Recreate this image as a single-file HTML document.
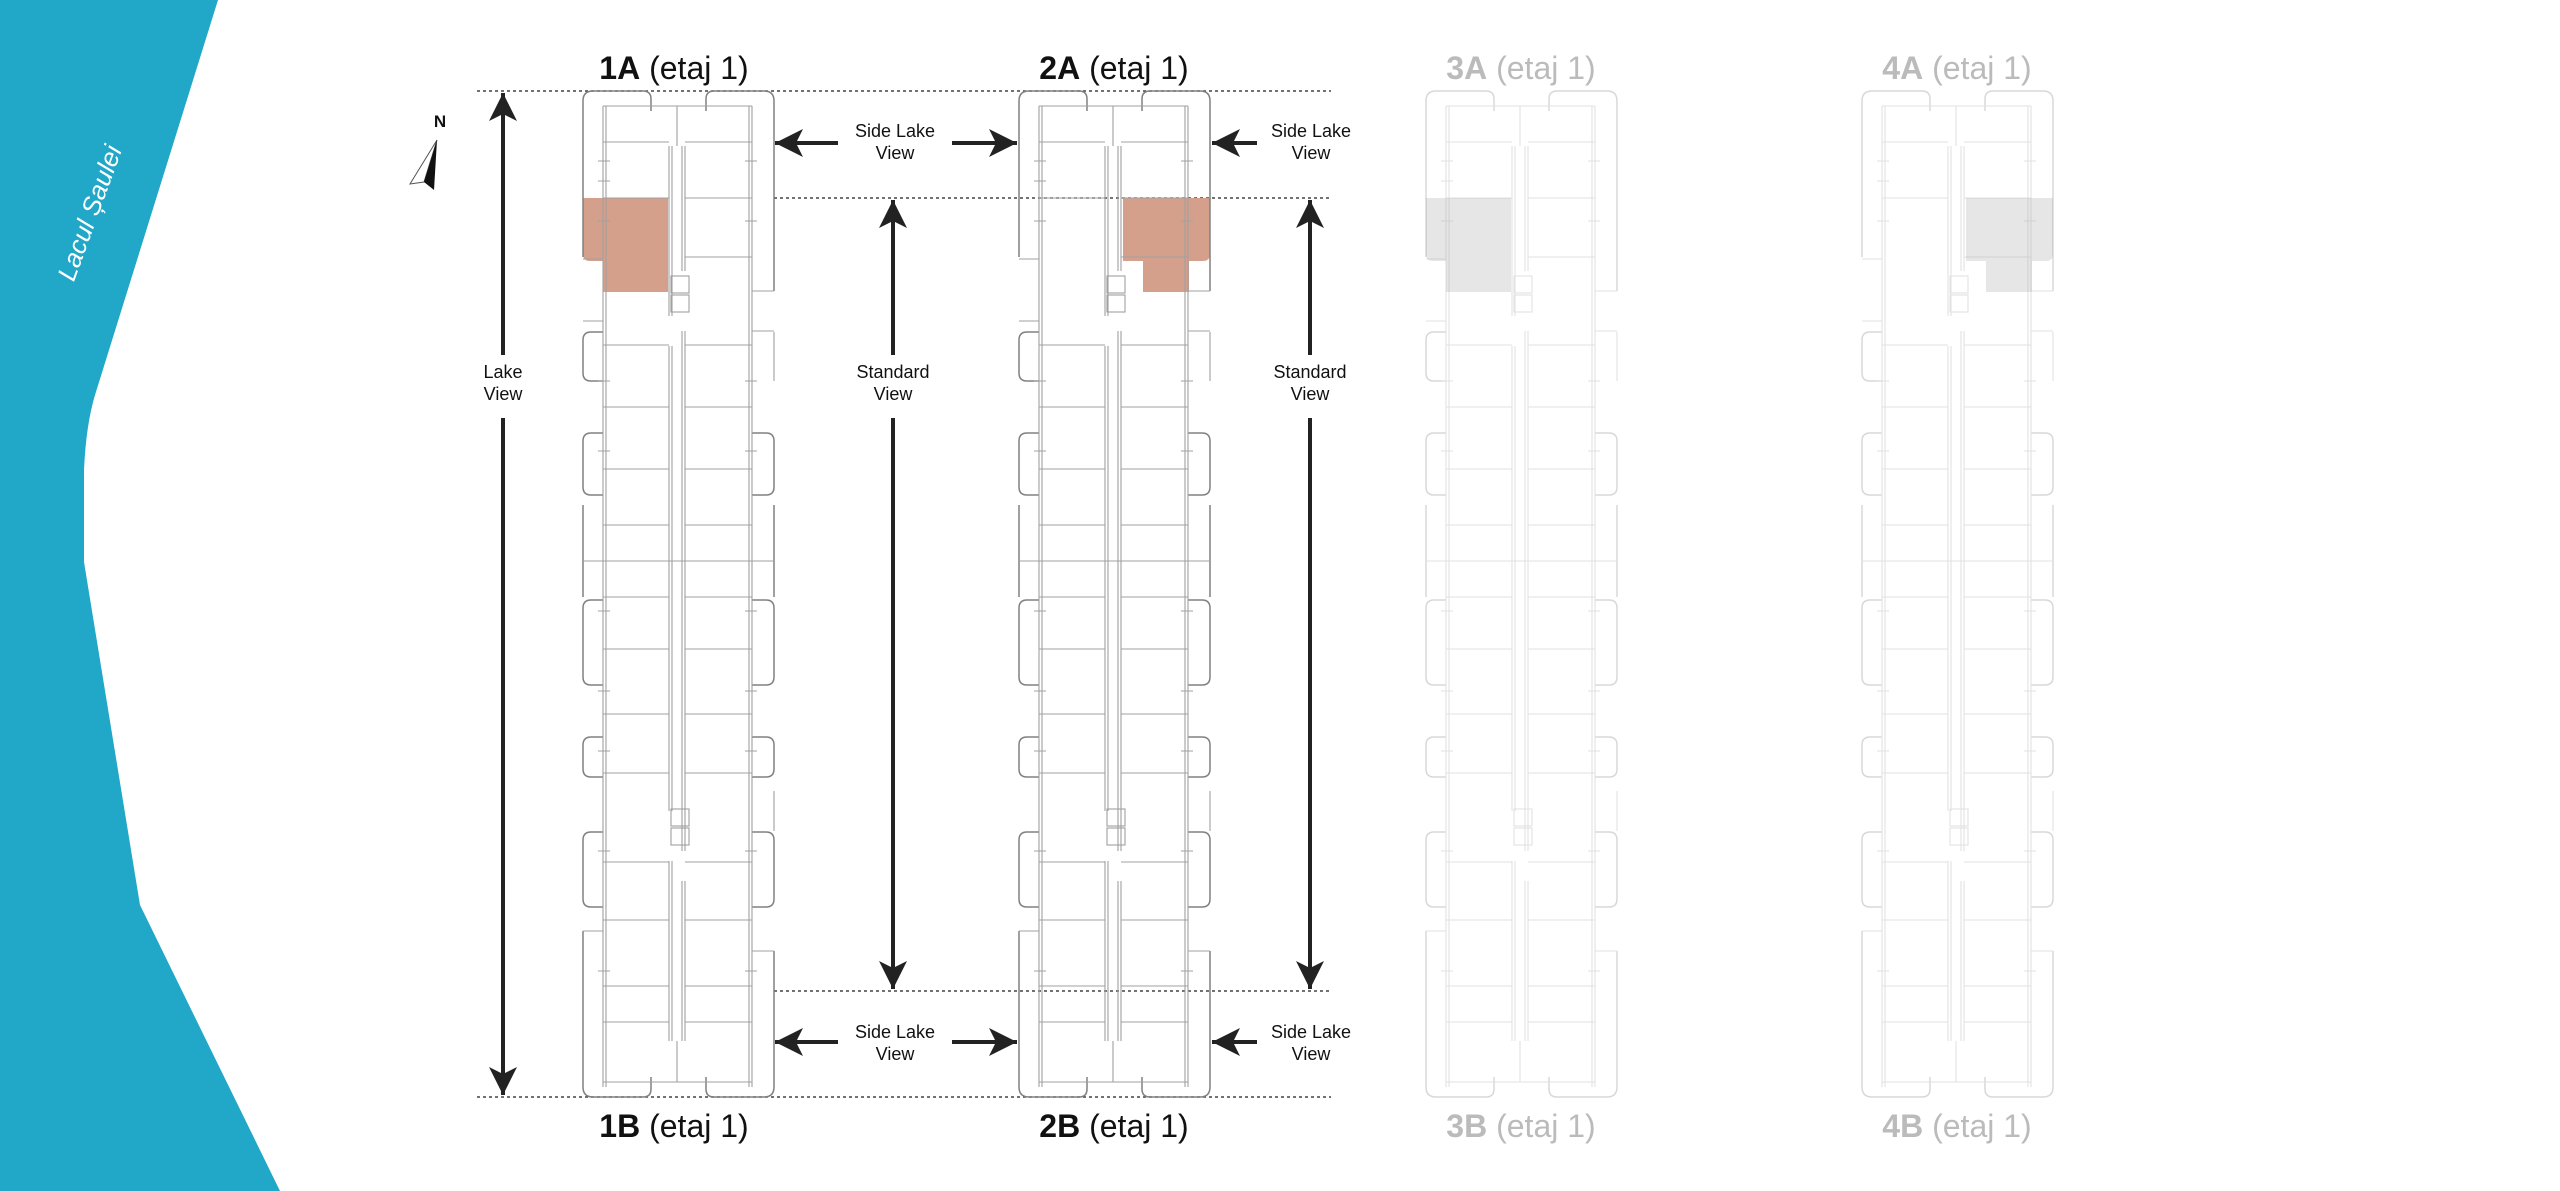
<!DOCTYPE html>
<html><head><meta charset="utf-8"><style>
html,body{margin:0;padding:0;background:#fff;}
svg{display:block;}
text{font-family:"Liberation Sans",sans-serif;}
</style></head><body>
<svg width="2560" height="1191" viewBox="0 0 2560 1191" xmlns="http://www.w3.org/2000/svg">
<defs>
<marker id="ah" viewBox="0 0 30 30" refX="28" refY="15" markerWidth="30" markerHeight="30" markerUnits="userSpaceOnUse" orient="auto">
<path d="M0,1 L28,15 L0,29 L7,15 Z" fill="#222"/>
</marker>
<g id="bld" fill="none" stroke="#a0a0a0" stroke-width="1.1">
  <path d="M0,166 L0,10 Q0,0 10,0 L60,0 Q68,0 68,8 L68,20" stroke="#808080" stroke-width="1.5"/>
  <path d="M123,20 L123,8 Q123,0 131,0 L181,0 Q191,0 191,10 L191,200" stroke="#808080" stroke-width="1.5"/>
  <path d="M0,840 L0,996 Q0,1006 10,1006 L60,1006 Q68,1006 68,998 L68,986" stroke="#808080" stroke-width="1.5"/>
  <path d="M123,986 L123,998 Q123,1006 131,1006 L181,1006 Q191,1006 191,996 L191,860" stroke="#808080" stroke-width="1.5"/>
  <g stroke="#808080" stroke-width="1.5">
  <path d="M20,241 L8,241 Q0,241 0,249 L0,282 Q0,290 8,290 L20,290"/>
  <path d="M20,342 L8,342 Q0,342 0,350 L0,396 Q0,404 8,404 L20,404"/>
  <path d="M0,414 L0,506"/>
  <path d="M20,509 L8,509 Q0,509 0,517 L0,586 Q0,594 8,594 L20,594"/>
  <path d="M20,646 L8,646 Q0,646 0,654 L0,678 Q0,686 8,686 L20,686"/>
  <path d="M20,741 L8,741 Q0,741 0,749 L0,808 Q0,816 8,816 L20,816"/>
  <path d="M169,342 L183,342 Q191,342 191,350 L191,396 Q191,404 183,404 L169,404"/>
  <path d="M191,414 L191,506"/>
  <path d="M169,509 L183,509 Q191,509 191,517 L191,586 Q191,594 183,594 L169,594"/>
  <path d="M169,646 L183,646 Q191,646 191,654 L191,678 Q191,686 183,686 L169,686"/>
  <path d="M169,741 L183,741 Q191,741 191,749 L191,808 Q191,816 183,816 L169,816"/>
  </g>
  <path d="M191,241 L191,290 M191,700 L191,740"/>
  <path d="M20,15 L20,996 M169,15 L169,996 M23,15 L23,996 M166,15 L166,996"/>
  <path d="M20,15 L68,15 M123,15 L169,15 M20,991 L68,991 M123,991 L169,991 M68,15 L123,15 M68,991 L123,991"/>
  <path d="M86,55 L86,225 M102,55 L102,180 M86,255 L86,720 M102,240 L102,760 M86,770 L86,950 M102,790 L102,950"/>
  <path d="M89,55 L89,225 M99,55 L99,180 M89,255 L89,720 M99,240 L99,760 M89,770 L89,950 M99,790 L99,950"/>
  <path d="M94,15 L94,55 M94,950 L94,991"/>
  <path d="M20,51 L86,51 M102,51 L169,51 M20,107 L86,107 M102,107 L169,107 M102,166 L169,166 M20,254 L86,254 M102,254 L169,254 M20,316 L86,316 M102,316 L169,316 M20,378 L86,378 M102,378 L169,378 M20,434 L86,434 M102,434 L169,434 M0,470 L191,470 M20,506 L86,506 M102,506 L169,506 M20,558 L86,558 M102,558 L169,558 M20,623 L86,623 M102,623 L169,623 M20,682 L86,682 M102,682 L169,682 M20,771 L86,771 M102,771 L169,771 M20,829 L86,829 M102,829 L169,829 M20,895 L86,895 M102,895 L169,895 M20,931 L86,931 M102,931 L169,931"/>
  <path d="M0,168 L20,168 M169,200 L191,200 M169,240 L191,240 M0,840 L20,840 M169,860 L191,860 M0,230 L20,230"/>
  <rect x="88" y="185" width="18" height="17"/><rect x="88" y="204" width="18" height="17"/>
  <rect x="88" y="718" width="18" height="17"/><rect x="88" y="737" width="18" height="17"/>
  <path d="M15,70 L27,70 M15,90 L27,90 M15,130 L27,130 M15,290 L27,290 M15,360 L27,360 M15,520 L27,520 M15,600 L27,600 M15,660 L27,660 M15,760 L27,760 M15,880 L27,880 M162,70 L174,70 M162,130 L174,130 M162,290 L174,290 M162,360 L174,360 M162,520 L174,520 M162,600 L174,600 M162,660 L174,660 M162,760 L174,760 M162,880 L174,880"/>
</g>
</defs>

<path d="M0,0 L218,0 L95,395 Q86,425 84,470 L84,562 L140,905 L280,1191 L0,1191 Z" fill="#21a7c7"/>
<text x="0" y="0" transform="translate(98,216) rotate(-70)" fill="#fff" font-size="26" font-style="italic" text-anchor="middle">Lacul Șaulei</text>

<text x="440" y="127" font-size="17" font-weight="bold" text-anchor="middle" fill="#111">N</text>
<path d="M437,140 L410,184 L424,182 Z" fill="#fff" stroke="#555" stroke-width="1"/>
<path d="M437,140 L424,182 L434,190 Z" fill="#111"/>

<g stroke="#444" stroke-width="1.5" stroke-dasharray="3,3">
<line x1="477" y1="91" x2="1331" y2="91"/>
<line x1="774" y1="198" x2="1331" y2="198"/>
<line x1="774" y1="991" x2="1331" y2="991"/>
<line x1="477" y1="1097" x2="1331" y2="1097"/>
</g>

<path d="M583,198 L668,198 L668,292 L603,292 L603,261 L590,261 Q583,261 583,254 Z" fill="#d4a08c"/>
<path d="M1123,198 L1210,198 L1210,254 Q1210,261 1203,261 L1189,261 L1189,292 L1143,292 L1143,261 L1123,261 Z" fill="#d4a08c"/>
<path d="M1426,198 L1511,198 L1511,292 L1446,292 L1446,261 L1433,261 Q1426,261 1426,254 Z" fill="#e6e6e6"/>
<path d="M1966,198 L2053,198 L2053,254 Q2053,261 2046,261 L2032,261 L2032,292 L1986,292 L1986,261 L1966,261 Z" fill="#e6e6e6"/>
<use href="#bld" x="583" y="91"/>
<use href="#bld" x="1019" y="91"/>
<use href="#bld" x="1426" y="91" opacity="0.3"/>
<use href="#bld" x="1862" y="91" opacity="0.3"/>

<g font-size="32" text-anchor="middle">
<text x="674" y="79" fill="#111"><tspan font-weight="bold">1A</tspan> (etaj 1)</text>
<text x="1114" y="79" fill="#111"><tspan font-weight="bold">2A</tspan> (etaj 1)</text>
<text x="1521" y="79" fill="#bbb"><tspan font-weight="bold">3A</tspan> (etaj 1)</text>
<text x="1957" y="79" fill="#bbb"><tspan font-weight="bold">4A</tspan> (etaj 1)</text>
<text x="674" y="1137" fill="#111"><tspan font-weight="bold">1B</tspan> (etaj 1)</text>
<text x="1114" y="1137" fill="#111"><tspan font-weight="bold">2B</tspan> (etaj 1)</text>
<text x="1521" y="1137" fill="#bbb"><tspan font-weight="bold">3B</tspan> (etaj 1)</text>
<text x="1957" y="1137" fill="#bbb"><tspan font-weight="bold">4B</tspan> (etaj 1)</text>
</g>

<g stroke="#222" stroke-width="4" fill="none">
<line x1="503" y1="355" x2="503" y2="93" marker-end="url(#ah)"/>
<line x1="503" y1="418" x2="503" y2="1095" marker-end="url(#ah)"/>
<line x1="893" y1="355" x2="893" y2="200" marker-end="url(#ah)"/>
<line x1="893" y1="418" x2="893" y2="989" marker-end="url(#ah)"/>
<line x1="1310" y1="355" x2="1310" y2="200" marker-end="url(#ah)"/>
<line x1="1310" y1="418" x2="1310" y2="989" marker-end="url(#ah)"/>
<line x1="838" y1="143" x2="775" y2="143" marker-end="url(#ah)"/>
<line x1="952" y1="143" x2="1017" y2="143" marker-end="url(#ah)"/>
<line x1="1257" y1="143" x2="1212" y2="143" marker-end="url(#ah)"/>
<line x1="838" y1="1042" x2="775" y2="1042" marker-end="url(#ah)"/>
<line x1="952" y1="1042" x2="1017" y2="1042" marker-end="url(#ah)"/>
<line x1="1257" y1="1042" x2="1212" y2="1042" marker-end="url(#ah)"/>
</g>
<g font-size="18" text-anchor="middle" fill="#111">
<text x="503" y="378">Lake</text><text x="503" y="400">View</text>
<text x="893" y="378">Standard</text><text x="893" y="400">View</text>
<text x="1310" y="378">Standard</text><text x="1310" y="400">View</text>
<text x="895" y="137">Side Lake</text><text x="895" y="159">View</text>
<text x="1311" y="137">Side Lake</text><text x="1311" y="159">View</text>
<text x="895" y="1038">Side Lake</text><text x="895" y="1060">View</text>
<text x="1311" y="1038">Side Lake</text><text x="1311" y="1060">View</text>
</g>
</svg>
</body></html>
